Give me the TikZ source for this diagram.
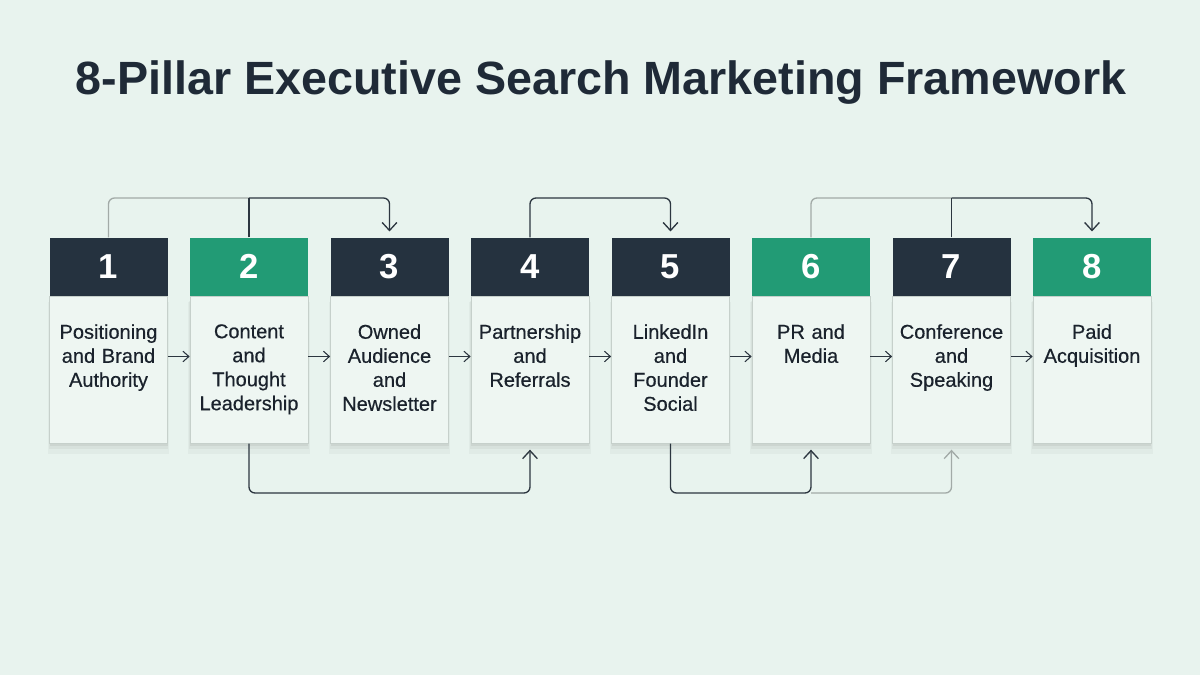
\documentclass[tikz,border=0pt]{standalone}
\usepackage{fontspec}
\setmainfont{Liberation Sans}
\newfontfamily\bodyfont[FakeBold=0.5]{Liberation Sans}
\usetikzlibrary{arrows.meta,shadows,positioning}
\definecolor{bgmint}{HTML}{E8F3EE}
\definecolor{bodyfill}{HTML}{EEF6F2}
\definecolor{headdark}{HTML}{25323F}
\definecolor{headgreen}{HTML}{229B75}
\definecolor{titleink}{HTML}{1F2A37}
\definecolor{textink}{HTML}{1A222C}
\definecolor{linkdark}{HTML}{2C3640}
\definecolor{linkgray}{HTML}{A2AAA7}
\definecolor{edgegray}{HTML}{C6D0CB}
\tikzstyle{pillar_head}=[rectangle,
        minimum width=88.5pt,
        minimum height=43.5pt,
        inner sep=0pt,
        text=white,
        font=\fontsize{26}{30}\selectfont\bfseries, ]
\tikzstyle{pillar_body}=[rectangle,
        minimum width=88.5pt,
        minimum height=110.25pt,
        inner sep=0pt,
        fill=bodyfill,
        draw=edgegray,
        line width=0.5pt,
        drop shadow={shadow xshift=0pt, shadow yshift=-6pt, shadow scale=1.03, opacity=0.03, fill=black},
        drop shadow={shadow xshift=0pt, shadow yshift=-4pt, shadow scale=1.01, opacity=0.04, fill=black},
        drop shadow={shadow xshift=0pt, shadow yshift=-2pt, opacity=0.05, fill=black}, ]
\tikzstyle{pillar_text}=[align=center,
        text width=84pt,
        inner sep=0pt,
        text=textink,
        font=\bodyfont\fontsize{15}{18}\selectfont, ]
\tikzstyle{flow_arrow}=[draw=linkdark, line width=0.8pt,
        -{Straight Barb[length=4.5pt,width=8pt]}]
\tikzstyle{link_dark}=[draw=linkdark, line width=1pt, rounded corners=4.5pt]
\tikzstyle{link_gray}=[draw=linkgray, line width=1pt, rounded corners=4.5pt]
\tikzstyle{link_tip}=[-{Straight Barb[length=6pt,width=11pt]}, shorten >=4.5pt]

\begin{document}
\begin{tikzpicture}[x=0.75pt, y=-0.75pt]
    \fill[bgmint] (0,0) rectangle (1200,675);
    \useasboundingbox (0,0) rectangle (1200,675);

    \node[anchor=base, text=titleink, font=\fontsize{35}{42}\selectfont\bfseries] (title) at (601,94)
        {8-Pillar Executive Search Marketing Framework};

    % pillars
    \foreach \n/\c/\t in {1/headdark/{Positioning\\and Brand\\Authority},
                          2/headgreen/{Content\\and\\Thought\\Leadership},
                          3/headdark/{Owned\\Audience\\and\\Newsletter},
                          4/headdark/{Partnership\\and\\Referrals},
                          5/headdark/{LinkedIn\\and\\Founder\\Social},
                          6/headgreen/{PR and\\Media},
                          7/headdark/{Conference\\and\\Speaking},
                          8/headgreen/{Paid\\Acquisition}} {
        \pgfmathsetmacro\cx{108.5 + (\n - 1) * 140.5}
        \node[pillar_body, anchor=north] (b\n) at (\cx, 296) {};
        \node[pillar_head, fill=\c, above=0pt of b\n] (h\n) {\n};
        \node[pillar_text, below=21pt of b\n.north] (t\n) {\t};
    }

    % steps between pillars
    \foreach \a/\b in {1/2,2/3,3/4,4/5,5/6,6/7,7/8} {
        \draw[flow_arrow] ([yshift=10pt]b\a.east) -- ([yshift=10pt]b\b.west);
    }

    \coordinate (rail_top) at (0,198);
    \coordinate (rail_bot) at (0,493);

    % links above
    \draw[link_gray] (h1.north) |- (h2.north |- rail_top);
    \draw[link_dark] (h2.north) -- (h2.north |- rail_top);
    \draw[link_dark, link_tip] (h2.north |- rail_top) -| (h3.north);
    \draw[link_dark, link_tip] (h4.north) -- (h4.north |- rail_top) -| (h5.north);
    \draw[link_gray] (h6.north) |- (h7.north |- rail_top);
    \draw[link_dark] (h7.north) -- (h7.north |- rail_top);
    \draw[link_dark, link_tip] (h7.north |- rail_top) -| (h8.north);

    % links below
    \draw[link_dark, link_tip] (b2.south) -- (b2.south |- rail_bot) -| (b4.south);
    \draw[link_gray, link_tip] (b6.south |- rail_bot) -| (b7.south);
    \draw[link_dark, link_tip] (b5.south) -- (b5.south |- rail_bot) -| (b6.south);

\end{tikzpicture}
\end{document}
